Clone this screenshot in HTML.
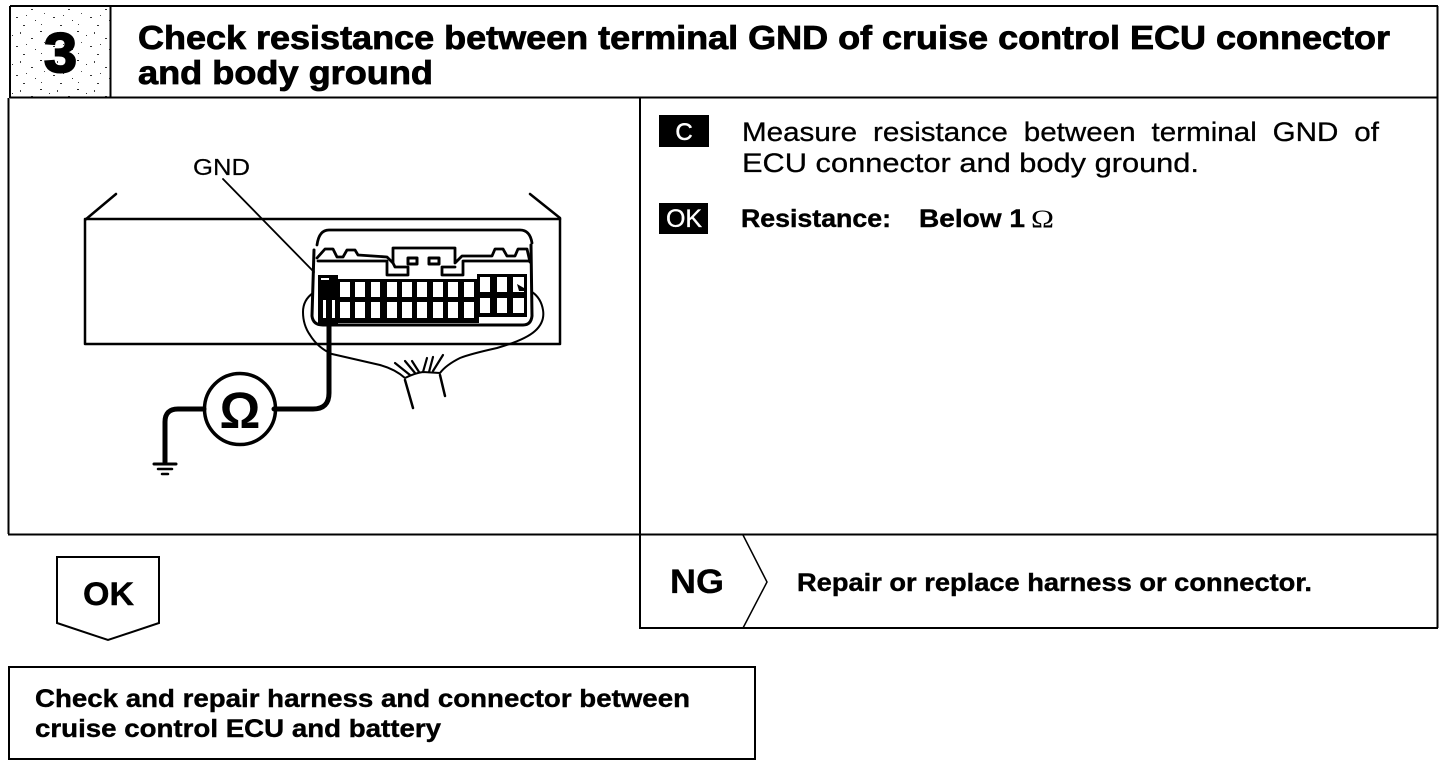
<!DOCTYPE html>
<html lang="en">
<head>
<meta charset="utf-8">
<title>Check resistance</title>
<style>
html,body{margin:0;padding:0;background:#fff;}
body{width:1456px;height:766px;overflow:hidden;}
svg{display:block;}
text{font-family:"Liberation Sans",sans-serif;fill:#000;white-space:pre;}
.b{font-weight:bold;}
</style>
</head>
<body>
<svg width="1456" height="766" viewBox="0 0 1456 766" xmlns="http://www.w3.org/2000/svg">
<defs>
<pattern id="dots" width="37" height="29" patternUnits="userSpaceOnUse">
<rect x="3" y="2" width="2" height="1" fill="#222"/>
<rect x="12" y="6" width="1" height="1" fill="#333"/>
<rect x="20" y="3" width="1" height="2" fill="#444"/>
<rect x="31" y="9" width="2" height="1" fill="#333"/>
<rect x="7" y="13" width="1" height="1" fill="#555"/>
<rect x="16" y="17" width="2" height="1" fill="#333"/>
<rect x="26" y="15" width="1" height="1" fill="#444"/>
<rect x="35" y="20" width="1" height="1" fill="#333"/>
<rect x="4" y="24" width="1" height="1" fill="#444"/>
<rect x="23" y="25" width="2" height="1" fill="#333"/>
</pattern>
</defs>
<rect width="1456" height="766" fill="#fff"/>

<!-- header -->
<rect x="11" y="7" width="99" height="91" fill="url(#dots)"/>
<g fill="none" stroke="#000">
<path d="M10 6H1438" stroke-width="2"/>
<path d="M10 97.500H1438" stroke-width="2"/>
<path d="M110.500 6V98" stroke-width="2"/>
<path d="M1437.500 6V628" stroke-width="2"/>
<path d="M10 6V98" stroke-width="2"/>
<path d="M8.500 98V534" stroke-width="2"/>
<path d="M8 534.500H1438" stroke-width="2"/>
<path d="M640 98V628H1438" stroke-width="2"/>
</g>
<text x="44" y="72" class="b" font-size="56" stroke="#000" stroke-width="2" textLength="33" lengthAdjust="spacingAndGlyphs">3</text>
<text x="138" y="49" class="b" font-size="33" stroke="#000" stroke-width=".8" textLength="1252" lengthAdjust="spacingAndGlyphs">Check resistance between terminal GND of cruise control ECU connector</text>
<text x="138" y="84" class="b" font-size="33" stroke="#000" stroke-width=".8" textLength="295" lengthAdjust="spacingAndGlyphs">and body ground</text>

<!-- right panel -->
<rect x="659" y="115" width="50" height="32" fill="#000"/>
<text x="684" y="140" font-size="24" text-anchor="middle" stroke="#fff" stroke-width=".5" style="fill:#fff">C</text>
<rect x="659" y="203" width="49" height="31" fill="#000"/>
<text x="684" y="227" font-size="25" text-anchor="middle" stroke="#fff" stroke-width=".3" style="fill:#fff">OK</text>
<text x="742" y="141" font-size="27" stroke="#000" stroke-width=".3" word-spacing="7" textLength="637" lengthAdjust="spacingAndGlyphs">Measure resistance between terminal GND of</text>
<text x="742" y="172" font-size="27" stroke="#000" stroke-width=".3" textLength="457" lengthAdjust="spacingAndGlyphs">ECU connector and body ground.</text>
<text x="741" y="227" class="b" font-size="25" stroke="#000" stroke-width=".4" textLength="150" lengthAdjust="spacingAndGlyphs">Resistance:</text>
<text x="919" y="227" class="b" font-size="25" stroke="#000" stroke-width=".4" textLength="106" lengthAdjust="spacingAndGlyphs">Below 1</text>
<text x="1031" y="227" font-size="25" style="font-family:'Liberation Serif',serif" textLength="23" lengthAdjust="spacingAndGlyphs">Ω</text>

<!-- NG -->
<text x="670" y="593" class="b" font-size="34" stroke="#000" stroke-width=".3" textLength="54" lengthAdjust="spacingAndGlyphs">NG</text>
<path d="M743 535L767 582L743 628" fill="none" stroke="#000" stroke-width="1.500"/>
<text x="797" y="591" class="b" font-size="25" stroke="#000" stroke-width=".4" textLength="515" lengthAdjust="spacingAndGlyphs">Repair or replace harness or connector.</text>

<!-- OK arrow -->
<path d="M57 557H159V623L108 640L57 623Z" fill="#fff" stroke="#000" stroke-width="2"/>
<text x="83" y="605" class="b" font-size="32" stroke="#000" stroke-width=".4" textLength="51" lengthAdjust="spacingAndGlyphs">OK</text>

<!-- bottom box -->
<rect x="9" y="667" width="746" height="92" fill="#fff" stroke="#000" stroke-width="2"/>
<text x="35" y="707" class="b" font-size="25" stroke="#000" stroke-width=".4" textLength="655" lengthAdjust="spacingAndGlyphs">Check and repair harness and connector between</text>
<text x="35" y="737" class="b" font-size="25" stroke="#000" stroke-width=".4" textLength="406" lengthAdjust="spacingAndGlyphs">cruise control ECU and battery</text>

<!-- diagram -->
<text x="193" y="175" font-size="23" stroke="#000" stroke-width=".2" textLength="57" lengthAdjust="spacingAndGlyphs">GND</text>
<g fill="none" stroke="#000" stroke-linecap="round" stroke-linejoin="round">
<path d="M116 194L85 220V344H560V218L530 194" stroke-width="2.500"/>
<path d="M85 219H560" stroke-width="2.500"/>
<path d="M223 179L314 272" stroke-width="1.800"/>

<!-- connector outline -->
<path d="M317 245Q319 230 329 230H520Q530 230 532 243" stroke-width="2.800"/>
<path d="M314 250L312 316Q313 325 323 325H523Q531 325 532 316L531 245" stroke-width="3"/>
<path d="M317 258L325 249H333L337 257H343L347 250H355L358 255L387 257L393 263V248H455V263L462 256H492L495 249H503L507 256H515L518 249H527L530 262" stroke-width="2.800"/>
<path d="M318 261H387V275H408V267H395L393 263M530 261H463V275H442V267H455" stroke-width="2.800"/>
<rect x="408" y="258" width="9" height="6" stroke-width="3"/>
<rect x="429" y="258" width="10" height="6" stroke-width="3"/>
</g>

<!-- cell block -->
<path d="M338 280H478V275H526V316H478V322H338Z" fill="#000" stroke="#000" stroke-width="2"/>
<g fill="#fff">
<rect x="340" y="282" width="10" height="15"/><rect x="355" y="282" width="10" height="15"/><rect x="371" y="282" width="9" height="15"/><rect x="387" y="282" width="10" height="15"/><rect x="402" y="282" width="10" height="15"/><rect x="417" y="282" width="10" height="15"/><rect x="433" y="282" width="10" height="15"/><rect x="448" y="282" width="10" height="15"/><rect x="464" y="282" width="10" height="15"/>
<rect x="340" y="302" width="10" height="16"/><rect x="355" y="302" width="10" height="16"/><rect x="371" y="302" width="9" height="16"/><rect x="387" y="302" width="10" height="16"/><rect x="402" y="302" width="10" height="16"/><rect x="417" y="302" width="10" height="16"/><rect x="433" y="302" width="10" height="16"/><rect x="448" y="302" width="10" height="16"/><rect x="464" y="302" width="10" height="16"/>
<rect x="480" y="277" width="10" height="15"/><rect x="497" y="277" width="10" height="15"/><rect x="513" y="277" width="11" height="15"/>
<rect x="480" y="298" width="10" height="15"/><rect x="497" y="298" width="10" height="15"/><rect x="513" y="298" width="11" height="15"/>
</g>
<path d="M517 284L524 288V291H519Z" fill="#000"/>
<rect x="318" y="275" width="20" height="49" fill="#000"/>
<rect x="323" y="300" width="3" height="18" fill="#fff"/>
<rect x="332" y="300" width="3" height="18" fill="#fff"/>
<rect x="321" y="278" width="8" height="2" fill="#fff"/>

<g fill="none" stroke="#000" stroke-linecap="round" stroke-linejoin="round">
<!-- harness -->
<path d="M313 293Q303 300 303 312Q303 325 310 335Q318 348 332 354L380 365Q395 369 405 378Q415 373 423 372L440 373Q446 365 460 358Q470 354 497 348Q525 340 535 331Q545 322 543 310Q541 298 532 292" stroke-width="2"/>
<path d="M405 380L413 408M440 375L445 396" stroke-width="2.500"/>
<path d="M395 363L410 375M405 361L415 373M412 361L419 372M427 358L423 372M433 357L429 372M443 355L433 371" stroke-width="2.200"/>

<!-- meter wire -->
<path d="M329 290V393Q329 409 313 409H274" stroke-width="5"/>
<path d="M204 409H178Q165 409 165 422V462" stroke-width="5"/>
<circle cx="240" cy="409" r="35.500" stroke-width="3.500"/>
<path d="M154 464H176" stroke-width="3"/><path d="M158 469H172" stroke-width="2.500"/><path d="M162 474H168" stroke-width="2.500"/>
</g>
<text x="240" y="428" font-size="51" text-anchor="middle" class="b">Ω</text>
</svg>
</body>
</html>
